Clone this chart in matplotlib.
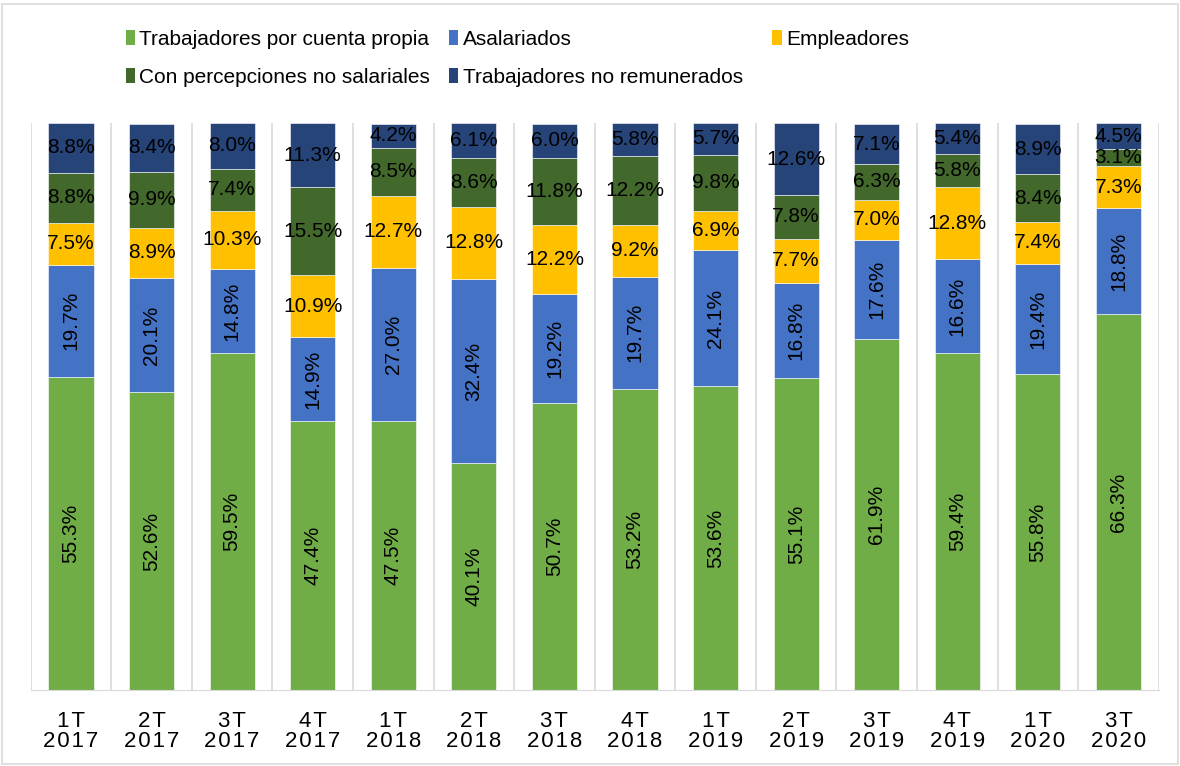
import numpy as np
import matplotlib
matplotlib.use("Agg")
import matplotlib.pyplot as plt
from matplotlib.patches import Rectangle, Patch

plt.rcParams['font.family'] = ['Liberation Sans', 'DejaVu Sans']

# data (percent of total)
quarters = ['1T', '2T', '3T', '4T', '1T', '2T', '3T', '4T', '1T', '2T', '3T', '4T', '1T', '3T']
years = ['2017', '2017', '2017', '2017', '2018', '2018', '2018', '2018',
         '2019', '2019', '2019', '2019', '2020', '2020']
cuenta_propia = [55.3, 52.6, 59.5, 47.4, 47.5, 40.1, 50.7, 53.2, 53.6, 55.1, 61.9, 59.4, 55.8, 66.3]
asalariados = [19.7, 20.1, 14.8, 14.9, 27.0, 32.4, 19.2, 19.7, 24.1, 16.8, 17.6, 16.6, 19.4, 18.8]
empleadores = [7.5, 8.9, 10.3, 10.9, 12.7, 12.8, 12.2, 9.2, 6.9, 7.7, 7.0, 12.8, 7.4, 7.3]
no_salariales = [8.8, 9.9, 7.4, 15.5, 8.5, 8.6, 11.8, 12.2, 9.8, 7.8, 6.3, 5.8, 8.4, 3.1]
no_remunerados = [8.8, 8.4, 8.0, 11.3, 4.2, 6.1, 6.0, 5.8, 5.7, 12.6, 7.1, 5.4, 8.9, 4.5]

series = [
    ('Trabajadores por cuenta propia', cuenta_propia, '#70AD47', 90),
    ('Asalariados', asalariados, '#4472C4', 90),
    ('Empleadores', empleadores, '#FFC000', 0),
    ('Con percepciones no salariales', no_salariales, '#43682B', 0),
    ('Trabajadores no remunerados', no_remunerados, '#264478', 0),
]

def spaced(s):
    # slight letter spacing, as in the original axis labels
    return '\u200a'.join(s)

fig = plt.figure(figsize=(11.8, 7.66), dpi=100)
ax = fig.add_axes([0.026, 0.099, 0.956, 0.740])

x = np.arange(len(quarters))
bottom = np.zeros(len(quarters))
handles = []
for name, vals, col, rot in series:
    vals = np.array(vals)
    ax.bar(x, vals, 0.56, bottom=bottom, color=col, edgecolor='#ffffff', linewidth=0.4, zorder=2)
    for xi, b, v in zip(x, bottom, vals):
        ax.text(xi, b + v / 2, f'{v:.1f}%', ha='center', va='center', rotation=rot,
                fontsize=15, color='black', zorder=3)
    handles.append(Patch(facecolor=col, label=name))
    bottom += vals

ax.set_xlim(-0.5, len(quarters) - 0.5)
ax.set_ylim(0, 100)
for xi in np.arange(-0.5, len(quarters), 1.0):
    ax.axvline(xi, color='#D9D9D9', linewidth=1.2, zorder=1)
ax.set_xticks(x)
ax.set_xticklabels([spaced(q) + '\n' + spaced(y) for q, y in zip(quarters, years)],
                   fontsize=16, linespacing=0.95)
ax.tick_params(axis='x', length=0, pad=15)
ax.set_yticks([])
for s in ['top', 'left', 'right']:
    ax.spines[s].set_visible(False)
ax.spines['bottom'].set_color('#D9D9D9')

# legend laid out in equal-width columns, row-major like the original
columns = [[0, 3], [1, 4], [2]]
col_x = [0.1065, 0.3805, 0.6545]
for idx, cx in zip(columns, col_x):
    leg = fig.legend([handles[i] for i in idx], [handles[i].get_label() for i in idx],
                     loc='upper left', bbox_to_anchor=(cx, 0.961), frameon=False,
                     fontsize=15, handlelength=0.45, handleheight=0.7, handletextpad=0.2,
                     labelspacing=0.9, borderpad=0, borderaxespad=0)

fig.patches.append(Rectangle((0.002, 0.003), 0.996, 0.992, transform=fig.transFigure,
                             fill=False, edgecolor='#D9D9D9', linewidth=1.2))

fig.savefig('out.png', dpi=100)
